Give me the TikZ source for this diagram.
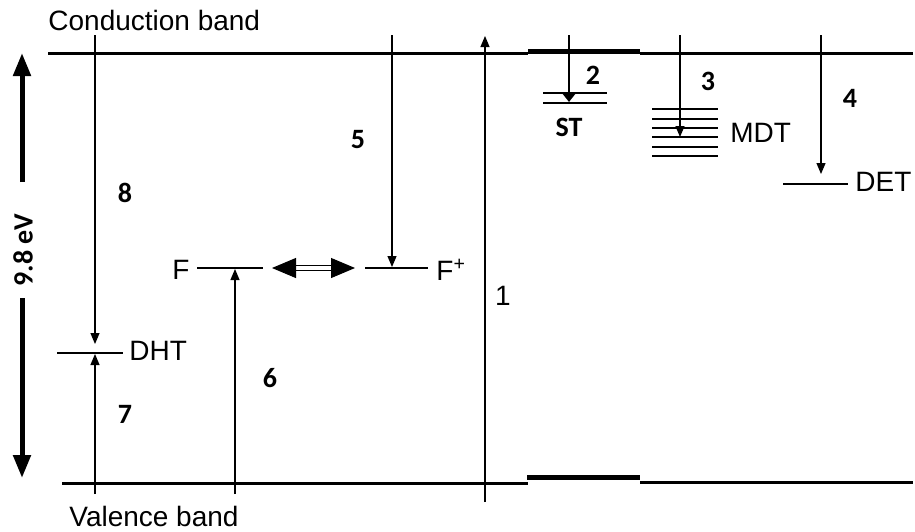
\documentclass[tikz,border=0pt]{standalone}
\usepackage{fontspec}
\setmainfont{Liberation Sans}
\newfontfamily\numfont{Carlito}
\usetikzlibrary{arrows.meta}

\tikzset{
    band/.style={line width=1.5pt},
    bandmid/.style={line width=2.5pt},
    lvl/.style={line width=0.6pt},
    trans/.style={line width=0.6pt,-{Triangle[length=5.5pt,width=4.5pt]}},
    numlbl/.style={font=\numfont\bfseries\fontsize{14}{16}\selectfont,inner sep=0pt},
    txtlbl/.style={font=\fontsize{14}{17}\selectfont,inner sep=0pt}
}

\begin{document}
\begin{tikzpicture}[x=0.5pt,y=-0.5pt]
    \useasboundingbox (0,0) rectangle (915,531);

    % bands
    \draw[band] (48,53) -- (528,53);
    \draw[bandmid] (528,51) -- (640,51);
    \draw[band] (640,53) -- (913,53);
    \draw[band] (62,483) -- (528,483);
    \draw[bandmid] (527,477) -- (640,477);
    \draw[band] (640,482) -- (913,482);
    \node[txtlbl,anchor=west] (cb) at (48,20) {Conduction band};
    \node[txtlbl,anchor=west] (vb) at (69,516) {Valence band};

    % gap width
    \node[numlbl,rotate=90] (gap) at (23,250) {9.8 eV};
    \coordinate (gaptop) at (22,53);
    \coordinate (gapup) at (22,182);
    \coordinate (gapdn) at (22,298);
    \coordinate (gapbot) at (22,478);
    \draw[line width=2.5pt,-{Triangle[length=11.5pt,width=8.5pt]}] (gapup) -- (gaptop);
    \draw[line width=2.5pt,-{Triangle[length=11.5pt,width=8.5pt]}] (gapdn) -- (gapbot);

    % DHT
    \coordinate (dhtl) at (57,353);
    \coordinate (dhtr) at (123,353);
    \draw[lvl] (dhtl) -- (dhtr);
    \node[txtlbl,anchor=west] (dht) at (129,351) {DHT};
    \coordinate (t8a) at (95,35);
    \coordinate (t8b) at (95,344);
    \draw[trans] (t8a) -- (t8b);
    \coordinate (t7a) at (95,494);
    \coordinate (t7b) at (95,354);
    \draw[trans] (t7a) -- (t7b);
    \node[numlbl] (n8) at (125,193) {8};
    \node[numlbl] (n7) at (125,414) {7};

    % F and F+
    \coordinate (fl) at (197,268);
    \coordinate (fr) at (263,268);
    \draw[lvl] (fl) -- (fr);
    \node[txtlbl,anchor=east] (f) at (190,270) {F};
    \coordinate (t6a) at (235,494);
    \coordinate (t6b) at (235,269);
    \draw[trans] (t6a) -- (t6b);
    \node[numlbl] (n6) at (270,378) {6};
    \coordinate (fpl) at (365,268);
    \coordinate (fpr) at (428,268);
    \draw[lvl] (fpl) -- (fpr);
    \node[txtlbl,anchor=west] (fp) at (436,270) {F\textsuperscript{+}};
    \coordinate (t5a) at (392,35);
    \coordinate (t5b) at (392,267);
    \draw[trans] (t5a) -- (t5b);
    \node[numlbl] (n5) at (358,140) {5};
    \coordinate (cvl) at (272,268);
    \coordinate (cvr) at (355,268);
    \draw[double,line width=0.5pt,double distance=1.8pt,
        {Triangle[length=12pt,width=10pt]}-{Triangle[length=12pt,width=10pt]}] (cvl) -- (cvr);

    % band to band
    \coordinate (t1a) at (485,502);
    \coordinate (t1b) at (485,36);
    \draw[trans] (t1a) -- (t1b);
    \node[txtlbl] (n1) at (503,296) {1};

    % ST
    \draw[lvl] (543,93) -- (607,93);
    \draw[lvl] (543,103) -- (607,103);
    \coordinate (t2a) at (569,35);
    \coordinate (t2b) at (569,102);
    \draw[line width=1.2pt,-{Triangle[length=4pt,width=6pt]}] (t2a) -- (t2b);
    \node[numlbl] (n2) at (593,75) {2};
    \node[numlbl] (st) at (569,127) {ST};

    % MDT
    \draw[lvl] (652,109) -- (718,109);
    \draw[lvl] (652,119) -- (718,119);
    \draw[lvl] (652,128) -- (718,128);
    \draw[lvl] (652,137) -- (718,137);
    \draw[lvl] (652,147) -- (718,147);
    \draw[lvl] (652,156) -- (718,156);
    \node[txtlbl,anchor=west] (mdt) at (730,133) {MDT};
    \coordinate (t3a) at (680,35);
    \coordinate (t3b) at (680,137);
    \draw[trans] (t3a) -- (t3b);
    \node[numlbl] (n3) at (708,81) {3};

    % DET
    \coordinate (detl) at (783,184);
    \coordinate (detr) at (848,184);
    \draw[lvl] (detl) -- (detr);
    \node[txtlbl,anchor=west] (det) at (855,182) {DET};
    \coordinate (t4a) at (821,35);
    \coordinate (t4b) at (821,174);
    \draw[trans] (t4a) -- (t4b);
    \node[numlbl] (n4) at (850,98) {4};
\end{tikzpicture}
\end{document}
